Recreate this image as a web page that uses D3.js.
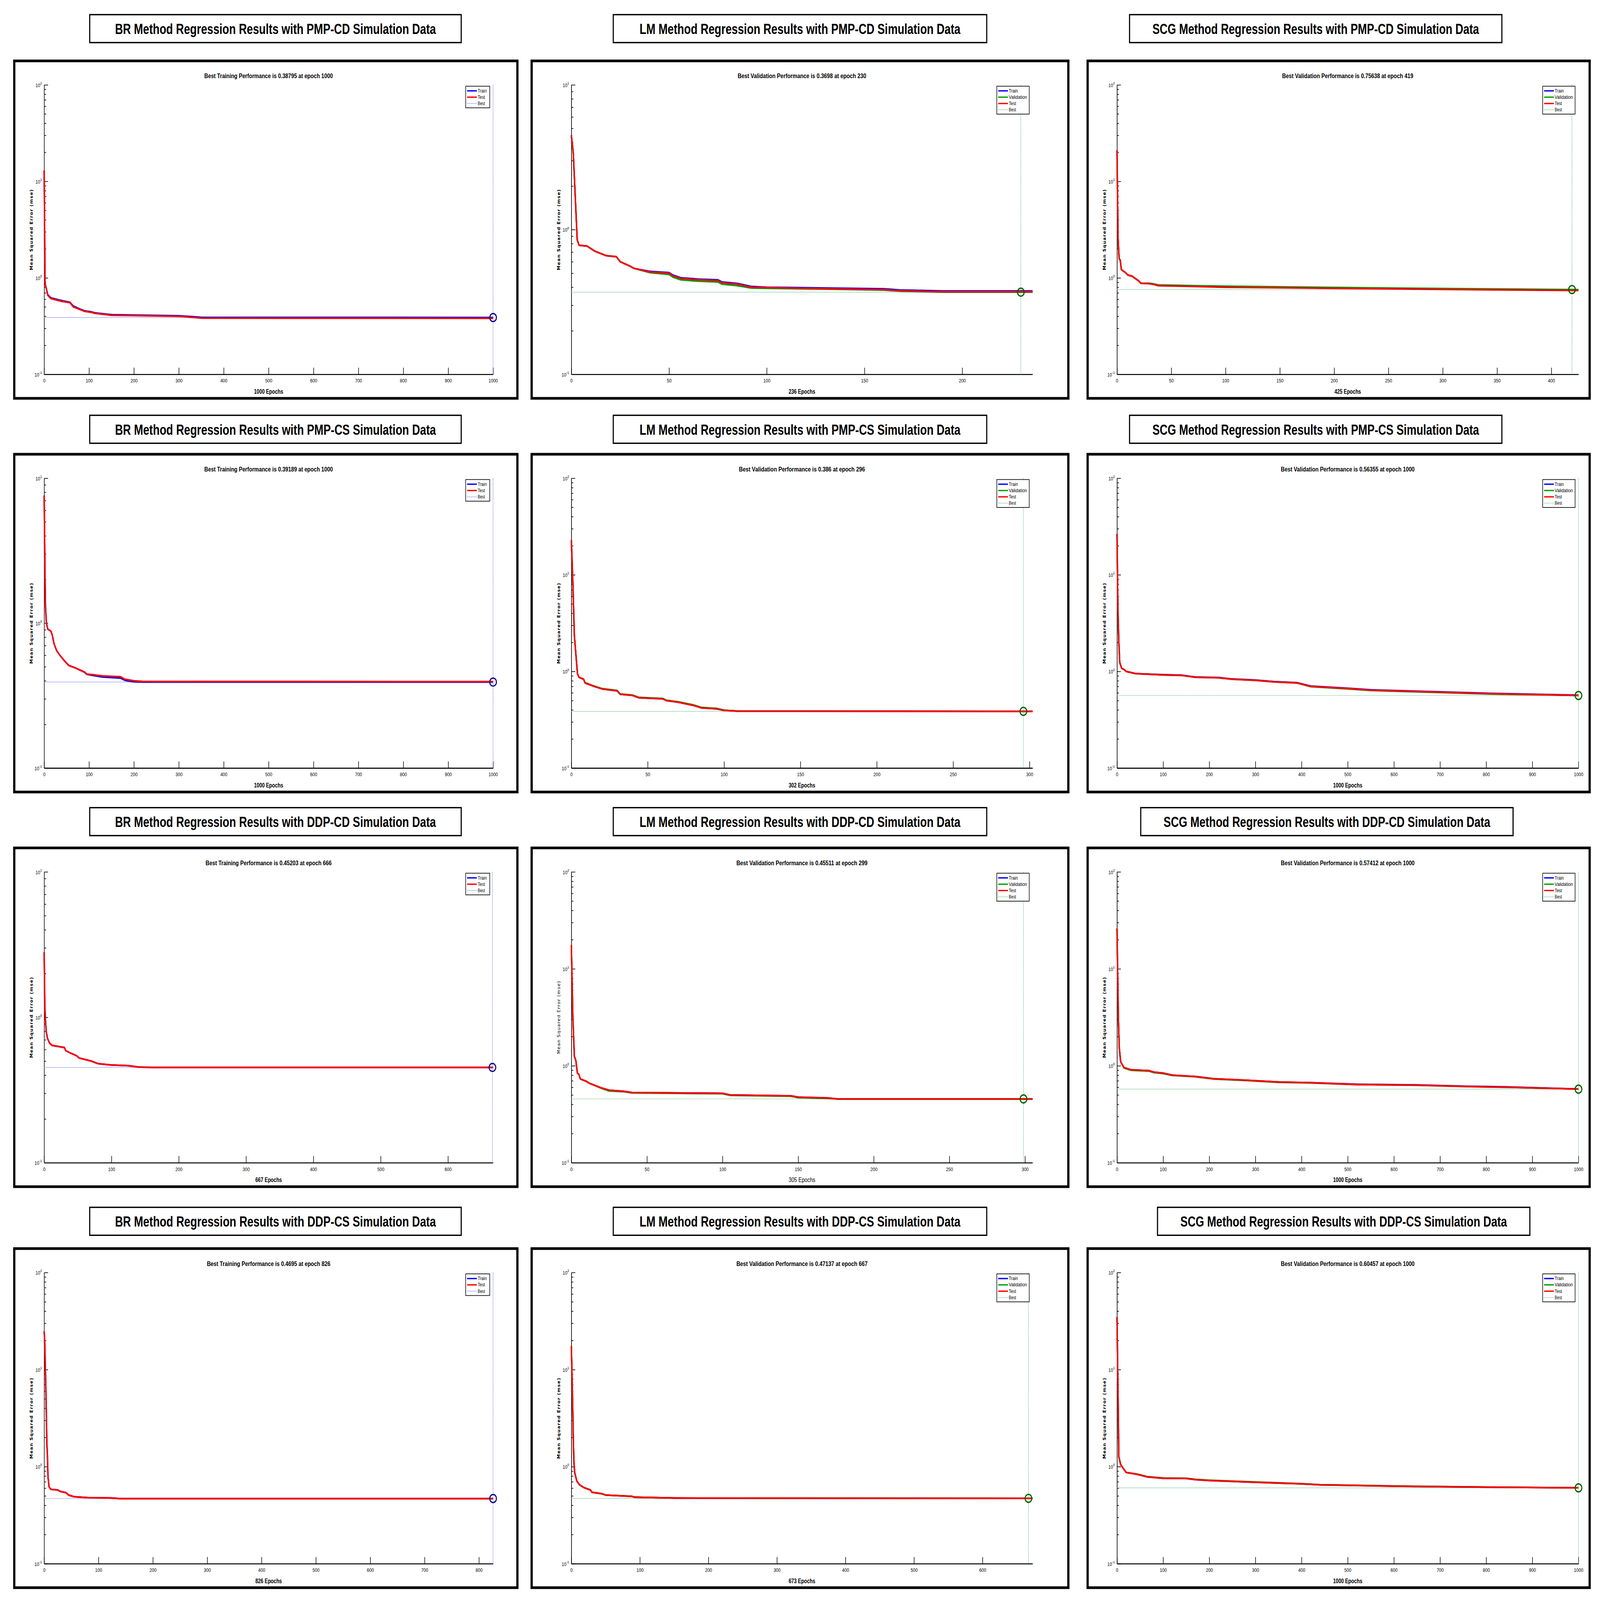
<!DOCTYPE html>
<html>
<head>
<meta charset="utf-8">
<script src="https://cdn.jsdelivr.net/npm/d3@7"></script>
<style>
  html, body { margin: 0; background: #fff; overflow: hidden; }
  svg { display: block; width: 100vw; height: 100vh; }
</style>
</head>
<body>
<svg id="chart" viewBox="0 0 5724 4808" preserveAspectRatio="none"></svg>
<script>
// === DATA ===
const methods = ["BR", "LM", "SCG"];
const datasets = ["PMP-CD", "PMP-CS", "DDP-CD", "DDP-CS"];

// epochs run by each panel, row by row (BR, LM, SCG)
const epochs = [1000, 236, 425, 1000, 302, 1000, 667, 305, 1000, 826, 673, 1000];
const bestEpoch = [1000, 230, 419, 1000, 296, 1000, 666, 299, 1000, 826, 667, 1000];
const bestValue = [0.38795, 0.3698, 0.75638, 0.39189, 0.386, 0.56355, 0.45203, 0.45511, 0.57412, 0.4695, 0.47137, 0.60457];
const yTop = [100, 10, 100, 10, 100, 100, 10, 100, 100, 100, 100, 100];
const xStep = [100, 50, 50, 100, 50, 100, 100, 50, 100, 100, 100, 100];

// Test curves [epoch, mse]
const testCurves = [
  [[0,13],[2,0.88],[8,0.66],[15,0.61],[40,0.57],[57,0.555],[65,0.5],[80,0.47],[90,0.45],[105,0.44],[112,0.43],[150,0.41],[300,0.4],[350,0.383],[1000,0.381]],
  [[0,4.5],[1,3.37],[3,0.85],[4,0.78],[8,0.77],[10,0.74],[12,0.71],[18,0.66],[23,0.65],[25,0.6],[30,0.56],[32,0.54],[40,0.51],[50,0.5],[52,0.48],[56,0.46],[65,0.45],[75,0.445],[77,0.43],[85,0.42],[92,0.4],[100,0.398],[130,0.39],[160,0.385],[168,0.378],[190,0.372],[236,0.372]],
  [[0,21],[1,2.57],[2,1.57],[3,1.53],[4,1.22],[8,1.13],[10,1.07],[14,1.04],[20,0.93],[22,0.88],[30,0.87],[33,0.86],[38,0.83],[60,0.82],[100,0.8],[200,0.78],[300,0.76],[425,0.74]],
  [[0,7.6],[1,3.87],[2,2.0],[3,1.29],[5,1.0],[8,0.91],[15,0.88],[18,0.83],[22,0.72],[28,0.645],[35,0.6],[45,0.55],[55,0.51],[70,0.49],[90,0.46],[95,0.445],[110,0.44],[130,0.432],[170,0.427],[180,0.41],[200,0.4],[220,0.396],[1000,0.395]],
  [[0,22.9],[1,8.2],[2,2.33],[4,0.95],[5,0.87],[8,0.83],[9,0.76],[15,0.7],[20,0.66],[30,0.63],[32,0.58],[40,0.565],[44,0.535],[60,0.52],[62,0.5],[70,0.48],[80,0.445],[85,0.42],[95,0.41],[100,0.395],[110,0.387],[302,0.386]],
  [[0,26.5],[2,4.5],[4,2.0],[6,1.24],[10,1.08],[15,1.05],[20,1.0],[40,0.95],[100,0.92],[140,0.91],[170,0.87],[220,0.86],[250,0.83],[300,0.81],[340,0.78],[390,0.76],[420,0.7],[500,0.665],[550,0.64],[700,0.61],[800,0.59],[1000,0.564]],
  [[0,2.8],[1,1.18],[2,0.95],[3,0.8],[5,0.715],[8,0.665],[12,0.64],[30,0.62],[32,0.59],[40,0.565],[48,0.545],[52,0.525],[70,0.5],[80,0.48],[100,0.47],[125,0.465],[140,0.455],[160,0.452],[667,0.452]],
  [[0,17.6],[1,3.13],[2,1.25],[3,1.13],[4,0.84],[5,0.815],[6,0.73],[10,0.69],[12,0.66],[20,0.59],[25,0.56],[35,0.545],[40,0.53],[100,0.52],[105,0.5],[145,0.49],[150,0.475],[170,0.465],[176,0.455],[305,0.455]],
  [[0,26],[3,3.08],[5,1.53],[8,1.1],[15,0.96],[30,0.91],[70,0.89],[80,0.86],[100,0.84],[120,0.8],[170,0.775],[210,0.735],[280,0.71],[350,0.68],[420,0.67],[520,0.64],[650,0.63],[760,0.61],[850,0.6],[1000,0.574]],
  [[0,24.8],[1,19.6],[3,6.9],[5,1.72],[6,1.3],[7,0.79],[9,0.62],[12,0.585],[25,0.575],[30,0.555],[40,0.54],[45,0.51],[55,0.49],[80,0.48],[125,0.475],[140,0.468],[826,0.468]],
  [[0,17.5],[2,4.1],[3,1.7],[4,1.04],[5,0.86],[8,0.71],[12,0.65],[18,0.61],[28,0.575],[30,0.545],[45,0.525],[50,0.51],[88,0.495],[92,0.485],[150,0.475],[673,0.471]],
  [[0,34.8],[2,7.0],[4,1.27],[8,1.05],[15,0.94],[20,0.87],[40,0.84],[50,0.82],[65,0.785],[100,0.76],[150,0.755],[170,0.735],[200,0.72],[300,0.69],[400,0.665],[440,0.65],[600,0.63],[800,0.615],[1000,0.605]]
];

// Train curves (mostly hidden under Test)
const trainCurves = [
  [[0,13],[2,0.88],[8,0.67],[15,0.62],[40,0.58],[57,0.56],[65,0.51],[80,0.475],[90,0.455],[105,0.445],[112,0.435],[150,0.415],[300,0.405],[350,0.39],[1000,0.388]],
  [[0,4.5],[1,3.37],[3,0.85],[4,0.78],[8,0.77],[10,0.74],[12,0.71],[18,0.66],[23,0.65],[25,0.6],[30,0.56],[32,0.54],[40,0.515],[50,0.505],[52,0.485],[56,0.465],[65,0.455],[75,0.45],[77,0.435],[85,0.425],[92,0.405],[100,0.4],[130,0.395],[160,0.39],[168,0.383],[190,0.377],[236,0.377]],
  [[0,21],[1,2.57],[2,1.57],[3,1.53],[4,1.22],[8,1.13],[10,1.07],[14,1.04],[20,0.93],[22,0.88],[30,0.875],[33,0.865],[38,0.84],[60,0.83],[100,0.81],[200,0.79],[300,0.77],[425,0.75]],
  [[0,7.6],[1,3.87],[2,2.0],[3,1.29],[5,1.0],[8,0.91],[15,0.88],[18,0.83],[22,0.72],[28,0.645],[35,0.6],[45,0.55],[55,0.51],[70,0.49],[90,0.458],[95,0.443],[110,0.435],[130,0.425],[170,0.418],[180,0.403],[200,0.394],[220,0.392],[1000,0.392]],
  [[0,22.9],[1,8.2],[2,2.33],[4,0.95],[5,0.87],[8,0.83],[9,0.76],[15,0.7],[20,0.66],[30,0.63],[32,0.58],[40,0.565],[44,0.535],[60,0.52],[62,0.5],[70,0.48],[80,0.445],[85,0.42],[95,0.41],[100,0.396],[110,0.388],[302,0.387]],
  [[0,26.5],[2,4.5],[4,2.0],[6,1.24],[10,1.08],[15,1.05],[20,1.0],[40,0.95],[100,0.925],[140,0.915],[170,0.875],[220,0.865],[250,0.835],[300,0.815],[340,0.785],[390,0.765],[420,0.705],[500,0.67],[550,0.645],[700,0.615],[800,0.595],[1000,0.568]],
  [[0,2.8],[1,1.18],[2,0.95],[3,0.8],[5,0.715],[8,0.665],[12,0.64],[30,0.62],[32,0.59],[40,0.565],[48,0.545],[52,0.525],[70,0.5],[80,0.48],[100,0.47],[125,0.465],[140,0.455],[160,0.452],[667,0.452]],
  [[0,17.6],[1,3.13],[2,1.25],[3,1.13],[4,0.84],[5,0.815],[6,0.73],[10,0.69],[12,0.66],[20,0.59],[25,0.56],[35,0.545],[40,0.53],[100,0.52],[105,0.5],[145,0.49],[150,0.475],[170,0.465],[176,0.455],[305,0.455]],
  [[0,26],[3,3.08],[5,1.53],[8,1.1],[15,0.96],[30,0.91],[70,0.89],[80,0.86],[100,0.84],[120,0.8],[170,0.775],[210,0.735],[280,0.71],[350,0.68],[420,0.67],[520,0.645],[650,0.635],[760,0.615],[850,0.605],[1000,0.576]],
  [[0,24.8],[1,19.6],[3,6.9],[5,1.72],[6,1.3],[7,0.79],[9,0.62],[12,0.585],[25,0.575],[30,0.555],[40,0.54],[45,0.51],[55,0.49],[80,0.48],[125,0.475],[140,0.4695],[826,0.4695]],
  [[0,17.5],[2,4.1],[3,1.7],[4,1.04],[5,0.86],[8,0.71],[12,0.65],[18,0.61],[28,0.575],[30,0.545],[45,0.525],[50,0.51],[88,0.495],[92,0.485],[150,0.475],[673,0.471]],
  [[0,34.8],[2,7.0],[4,1.27],[8,1.05],[15,0.94],[20,0.87],[40,0.84],[50,0.82],[65,0.785],[100,0.76],[150,0.755],[170,0.735],[200,0.72],[300,0.69],[400,0.665],[440,0.65],[600,0.63],[800,0.615],[1000,0.605]]
];

// Validation curves (LM and SCG only)
const valCurves = [
  null,
  [[0,4.5],[1,3.37],[3,0.85],[4,0.78],[8,0.77],[10,0.74],[12,0.71],[18,0.66],[23,0.65],[25,0.6],[30,0.56],[32,0.54],[40,0.505],[50,0.49],[52,0.47],[56,0.45],[65,0.44],[75,0.435],[77,0.42],[85,0.41],[92,0.395],[100,0.393],[130,0.388],[160,0.382],[168,0.376],[190,0.3698],[230,0.3698],[236,0.3698]],
  [[0,21],[1,2.57],[2,1.57],[3,1.53],[4,1.22],[8,1.13],[10,1.07],[14,1.04],[20,0.93],[22,0.88],[30,0.878],[33,0.87],[38,0.845],[60,0.835],[100,0.82],[200,0.795],[300,0.775],[419,0.75638],[425,0.756]],
  null,
  [[0,22.9],[1,8.2],[2,2.33],[4,0.95],[5,0.87],[8,0.835],[9,0.765],[15,0.705],[20,0.665],[30,0.635],[32,0.585],[40,0.57],[44,0.54],[60,0.525],[62,0.505],[70,0.485],[80,0.45],[85,0.425],[95,0.415],[100,0.398],[110,0.388],[296,0.386],[302,0.386]],
  [[0,26.5],[2,4.5],[4,2.0],[6,1.24],[10,1.08],[15,1.05],[20,1.0],[40,0.95],[100,0.92],[140,0.91],[170,0.87],[220,0.86],[250,0.83],[300,0.81],[340,0.78],[390,0.76],[420,0.695],[500,0.66],[550,0.635],[700,0.605],[800,0.585],[1000,0.56355]],
  null,
  [[0,17.6],[1,3.13],[2,1.25],[3,1.13],[4,0.84],[5,0.815],[6,0.73],[10,0.69],[12,0.66],[20,0.585],[25,0.55],[35,0.54],[40,0.525],[100,0.515],[105,0.495],[145,0.485],[150,0.47],[170,0.46],[176,0.45511],[305,0.45511]],
  [[0,26],[3,3.08],[5,1.53],[8,1.1],[15,0.95],[30,0.9],[70,0.88],[80,0.85],[100,0.83],[120,0.795],[170,0.77],[210,0.73],[280,0.705],[350,0.675],[420,0.665],[520,0.64],[650,0.63],[760,0.61],[850,0.6],[1000,0.57412]],
  null,
  [[0,17.5],[2,4.1],[3,1.7],[4,1.04],[5,0.86],[8,0.71],[12,0.65],[18,0.61],[28,0.575],[30,0.545],[45,0.525],[50,0.51],[88,0.495],[92,0.485],[150,0.475],[667,0.47137],[673,0.47137]],
  [[0,34.8],[2,7.0],[4,1.27],[8,1.05],[15,0.94],[20,0.87],[40,0.845],[50,0.825],[65,0.79],[100,0.765],[150,0.76],[170,0.74],[200,0.725],[300,0.695],[400,0.668],[440,0.652],[600,0.632],[800,0.616],[1000,0.60457]]
];

// === LAYOUT ===
const panelX = [[51, 1851], [1902, 3822], [3891, 5687]];
const panelY = [[183, 1197], [1365, 2380], [2548, 3566], [3752, 4771]];
const headerY = [44, 1248, 2427, 3628];
const headerX = [[321, 1650], [2194, 3530], [4041, 5373]];
const headerShift = [0, 0, 0, 0, 0, 0, 0, 0, 40, 0, 0, 100];
const marginL = [107, 142, 105], marginR = [87, 128, 40];

const colors = { Train: "#0000ff", Validation: "#00a000", Test: "#ff0000" };
const narrow = "'Liberation Sans Narrow', 'Arial Narrow', 'Liberation Sans', sans-serif";

const svg = d3.select("#chart");

// squeeze text to the narrow width seen in the picture
function squeeze(sel, perChar) {
  sel.attr("textLength", sel.text().length * perChar).attr("lengthAdjust", "spacingAndGlyphs");
  return sel;
}

datasets.forEach((ds, row) => {
  methods.forEach((m, col) => {
    const i = row * 3 + col;
    const isBR = m === "BR";

    // header box
    const hx0 = headerX[col][0] + headerShift[i], hx1 = headerX[col][1] + headerShift[i];
    svg.append("rect")
      .attr("x", hx0).attr("y", headerY[row])
      .attr("width", hx1 - hx0).attr("height", 84)
      .attr("fill", "#fff").attr("stroke", "#000").attr("stroke-width", 4);
    svg.append("text")
      .attr("x", (hx0 + hx1) / 2).attr("y", headerY[row] + 58)
      .attr("text-anchor", "middle")
      .attr("font-family", narrow).attr("font-weight", "bold").attr("font-size", 44)
      .text(`${m} Method Regression Results with ${ds} Simulation Data`)
      .call(s => squeeze(s, 20.5));

    // panel frame
    const [px0, px1] = panelX[col], [py0, py1] = panelY[row];
    svg.append("rect")
      .attr("x", px0).attr("y", py0)
      .attr("width", px1 - px0).attr("height", py1 - py0)
      .attr("fill", "#fff").attr("stroke", "#000").attr("stroke-width", 8);

    const left = px0 + marginL[col], right = px1 - marginR[col];
    const top = py0 + 72, bottom = py1 - 72;
    const g = svg.append("g");

    const x = d3.scaleLinear().domain([0, epochs[i]]).range([left, right]);
    const y = d3.scaleLog().domain([0.1, yTop[i]]).range([bottom, top]);

    // title
    g.append("text")
      .attr("x", (left + right) / 2).attr("y", top - 20)
      .attr("text-anchor", "middle")
      .attr("font-family", narrow).attr("font-weight", "bold").attr("font-size", 20)
      .text(`Best ${isBR ? "Training" : "Validation"} Performance is ${bestValue[i]} at epoch ${bestEpoch[i]}`)
      .call(s => squeeze(s, 9.2));

    // y axis: minor then major ticks, inward
    const decades = d3.range(-1, Math.round(Math.log10(yTop[i])) + 1);
    const minor = [];
    decades.slice(0, -1).forEach(e => d3.range(2, 10).forEach(k => minor.push(k * Math.pow(10, e))));
    g.append("g").attr("transform", `translate(${left},0)`)
      .call(d3.axisLeft(y).tickValues(minor).tickSize(-7).tickSizeOuter(0).tickFormat(""))
      .call(a => a.selectAll("line").attr("stroke-width", 2));
    const yAx = g.append("g").attr("transform", `translate(${left},0)`)
      .call(d3.axisLeft(y).tickValues(decades.map(e => Math.pow(10, e))).tickSize(-14).tickSizeOuter(0).tickFormat(""));
    yAx.selectAll("line").attr("stroke-width", 2);
    yAx.select(".domain").attr("stroke-width", 2);
    yAx.selectAll(".tick").each(function (d) {
      const t = d3.select(this).append("text")
        .attr("x", -8).attr("y", 6).attr("text-anchor", "end")
        .attr("fill", "#000").attr("font-family", narrow).attr("font-size", 15);
      t.append("tspan").text("10");
      t.append("tspan").attr("dy", -8).attr("font-size", 11).text(Math.round(Math.log10(d)));
    });

    // x axis
    const xAx = g.append("g").attr("transform", `translate(0,${bottom})`)
      .call(d3.axisBottom(x).tickValues(d3.range(0, epochs[i] + 1, xStep[i])).tickSize(-20).tickSizeOuter(0).tickPadding(14).tickFormat(d3.format("d")));
    xAx.selectAll("line").attr("stroke-width", 2);
    xAx.select(".domain").attr("stroke-width", 3);
    xAx.selectAll("text").attr("font-family", narrow).attr("font-size", 15);

    g.append("text")
      .attr("x", (left + right) / 2).attr("y", bottom + 58)
      .attr("text-anchor", "middle")
      .attr("font-family", narrow).attr("font-weight", i === 7 ? "normal" : "bold").attr("font-size", 20)
      .text(`${epochs[i]} Epochs`)
      .call(s => squeeze(s, 9.5));

    g.append("text")
      .attr("transform", `translate(${left - 40},${(top + bottom) / 2}) rotate(-90)`)
      .attr("text-anchor", "middle")
      .attr("font-family", "'DejaVu Sans', sans-serif").attr("font-weight", i === 7 ? "normal" : "bold").attr("font-size", 14)
      .attr("letter-spacing", 1.5)
      .text("Mean Squared Error  (mse)");

    // best markers
    const bestColor = isBR ? "#6a6aff" : "#55bb77";
    g.append("line")
      .attr("x1", x(0)).attr("x2", x(bestEpoch[i]))
      .attr("y1", y(bestValue[i])).attr("y2", y(bestValue[i]))
      .attr("stroke", bestColor).attr("stroke-width", 2).attr("stroke-dasharray", "2,2");
    g.append("line")
      .attr("x1", x(bestEpoch[i])).attr("x2", x(bestEpoch[i]))
      .attr("y1", top).attr("y2", bottom)
      .attr("stroke", bestColor).attr("stroke-width", 2).attr("stroke-dasharray", "2,2");

    // curves
    const line = d3.line().x(d => x(d[0])).y(d => y(d[1]));
    const series = [["Train", trainCurves[i]]];
    if (valCurves[i]) series.push(["Validation", valCurves[i]]);
    series.push(["Test", testCurves[i]]);
    series.forEach(([name, pts]) => {
      g.append("path").datum(pts)
        .attr("d", line).attr("fill", "none")
        .attr("stroke", colors[name]).attr("stroke-width", 5)
        .attr("stroke-linejoin", "round");
    });

    g.append("circle")
      .attr("cx", x(bestEpoch[i])).attr("cy", y(bestValue[i])).attr("r", 12)
      .attr("fill", "none").attr("stroke", isBR ? "#101090" : "#006400").attr("stroke-width", 4);

    // legend
    const entries = series.map(s => s[0]).concat(["Best"]);
    const lw = isBR ? 86 : 116, lh = entries.length * 19 + 8;
    const lg = g.append("g").attr("transform", `translate(${right - lw - 12},${top + 4})`);
    lg.append("rect").attr("width", lw).attr("height", lh)
      .attr("fill", "#fff").attr("stroke", "#000").attr("stroke-width", 2);
    entries.forEach((name, k) => {
      const yy = 14 + k * 19;
      lg.append("line").attr("x1", 5).attr("x2", 40).attr("y1", yy).attr("y2", yy)
        .attr("stroke", name === "Best" ? bestColor : colors[name])
        .attr("stroke-width", name === "Best" ? 2 : 4)
        .attr("stroke-dasharray", name === "Best" ? "2,2" : null);
      lg.append("text").attr("x", 43).attr("y", yy + 5)
        .attr("font-family", narrow).attr("font-size", 14).text(name)
        .call(s => squeeze(s, 6.5));
    });
  });
});
</script>
</body>
</html>
